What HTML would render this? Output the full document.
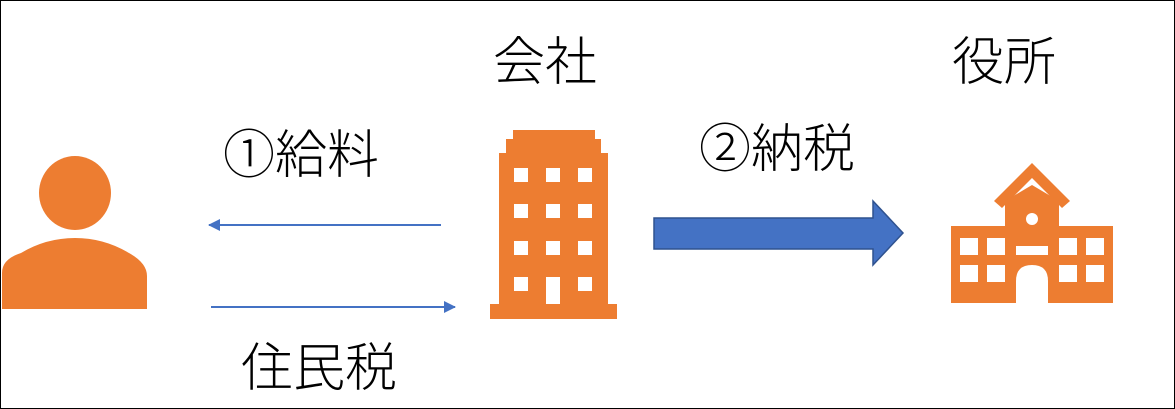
<!DOCTYPE html>
<html><head><meta charset="utf-8"><style>
html,body{margin:0;padding:0;background:#fff}
.c{position:relative;width:1175px;height:409px;box-sizing:border-box;border:1.5px solid #000;overflow:hidden}
.t{position:absolute;font-family:"Liberation Sans","Noto Sans CJK JP",sans-serif;font-weight:300;font-size:52px;line-height:1;color:#000;white-space:nowrap}
svg{position:absolute;left:0;top:0}
</style></head><body><div class="c">
<svg width="1175" height="409" viewBox="0 0 1175 409">
<defs>
<marker id="ah" markerWidth="12" markerHeight="12" refX="11" refY="6" orient="auto" markerUnits="userSpaceOnUse"><path d="M0,0 L12,6 L0,12 z" fill="#4472C4"/></marker>
</defs>
<g fill="#ED7D31">
<ellipse cx="74" cy="192" rx="36" ry="37"/>
<path d="M1,308 L1,272 Q1,258 20,252 Q45,237 74,237 Q103,237 128,252 Q146,262 146,275 L146,308 z"/>
<path d="M512,129 H594 V138 H600 V152 H607 V303 H616 V318 H489 V303 H498 V152 H505 V138 H512 z"/>
<path d="M1031,162 L1069,200 L1061,207 L1031,177 L1001,207 L993,200 z"/>
<path d="M950,225 H1004 V200 L1031,184 L1058,200 V225 H1112 V302 H950 z"/>
</g>
<g fill="#fff">
<rect x="513" y="167" width="14" height="14"/><rect x="545" y="167" width="14" height="14"/><rect x="577" y="167" width="14" height="14"/>
<rect x="513" y="203" width="14" height="14"/><rect x="545" y="203" width="14" height="14"/><rect x="577" y="203" width="14" height="14"/>
<rect x="513" y="240" width="14" height="14"/><rect x="545" y="240" width="14" height="14"/><rect x="577" y="240" width="14" height="14"/>
<rect x="513" y="276" width="14" height="14"/><rect x="545" y="276" width="14" height="27"/><rect x="577" y="276" width="14" height="14"/>
<circle cx="1031" cy="218" r="6"/>
<rect x="959" y="237" width="18" height="17"/><rect x="986" y="237" width="18" height="17"/><rect x="1058" y="237" width="18" height="17"/><rect x="1085" y="237" width="18" height="17"/>
<rect x="959" y="264" width="18" height="17"/><rect x="986" y="264" width="18" height="17"/><rect x="1058" y="264" width="18" height="17"/><rect x="1085" y="264" width="18" height="17"/>
<rect x="1015" y="245" width="32" height="9"/>
<path d="M1015,302 V280 Q1015,264 1031,264 Q1047,264 1047,280 V302 z"/>
</g>
<line x1="440" y1="224" x2="208" y2="224" stroke="#4472C4" stroke-width="2" marker-end="url(#ah)"/>
<line x1="210" y1="306" x2="454" y2="306" stroke="#4472C4" stroke-width="2" marker-end="url(#ah)"/>
<path d="M653,217 H872 V200 L902,232 L872,264 V248 H653 z" fill="#4472C4" stroke="#2F528F" stroke-width="1.5"/>
</svg>
<div class="t" style="left:492px;top:36px">会社</div>
<div class="t" style="left:951px;top:36px">役所</div>
<div class="t" style="left:222px;top:129px">①給料</div>
<div class="t" style="left:698px;top:123px">②納税</div>
<div class="t" style="left:240px;top:342px">住民税</div>
</div></body></html>
